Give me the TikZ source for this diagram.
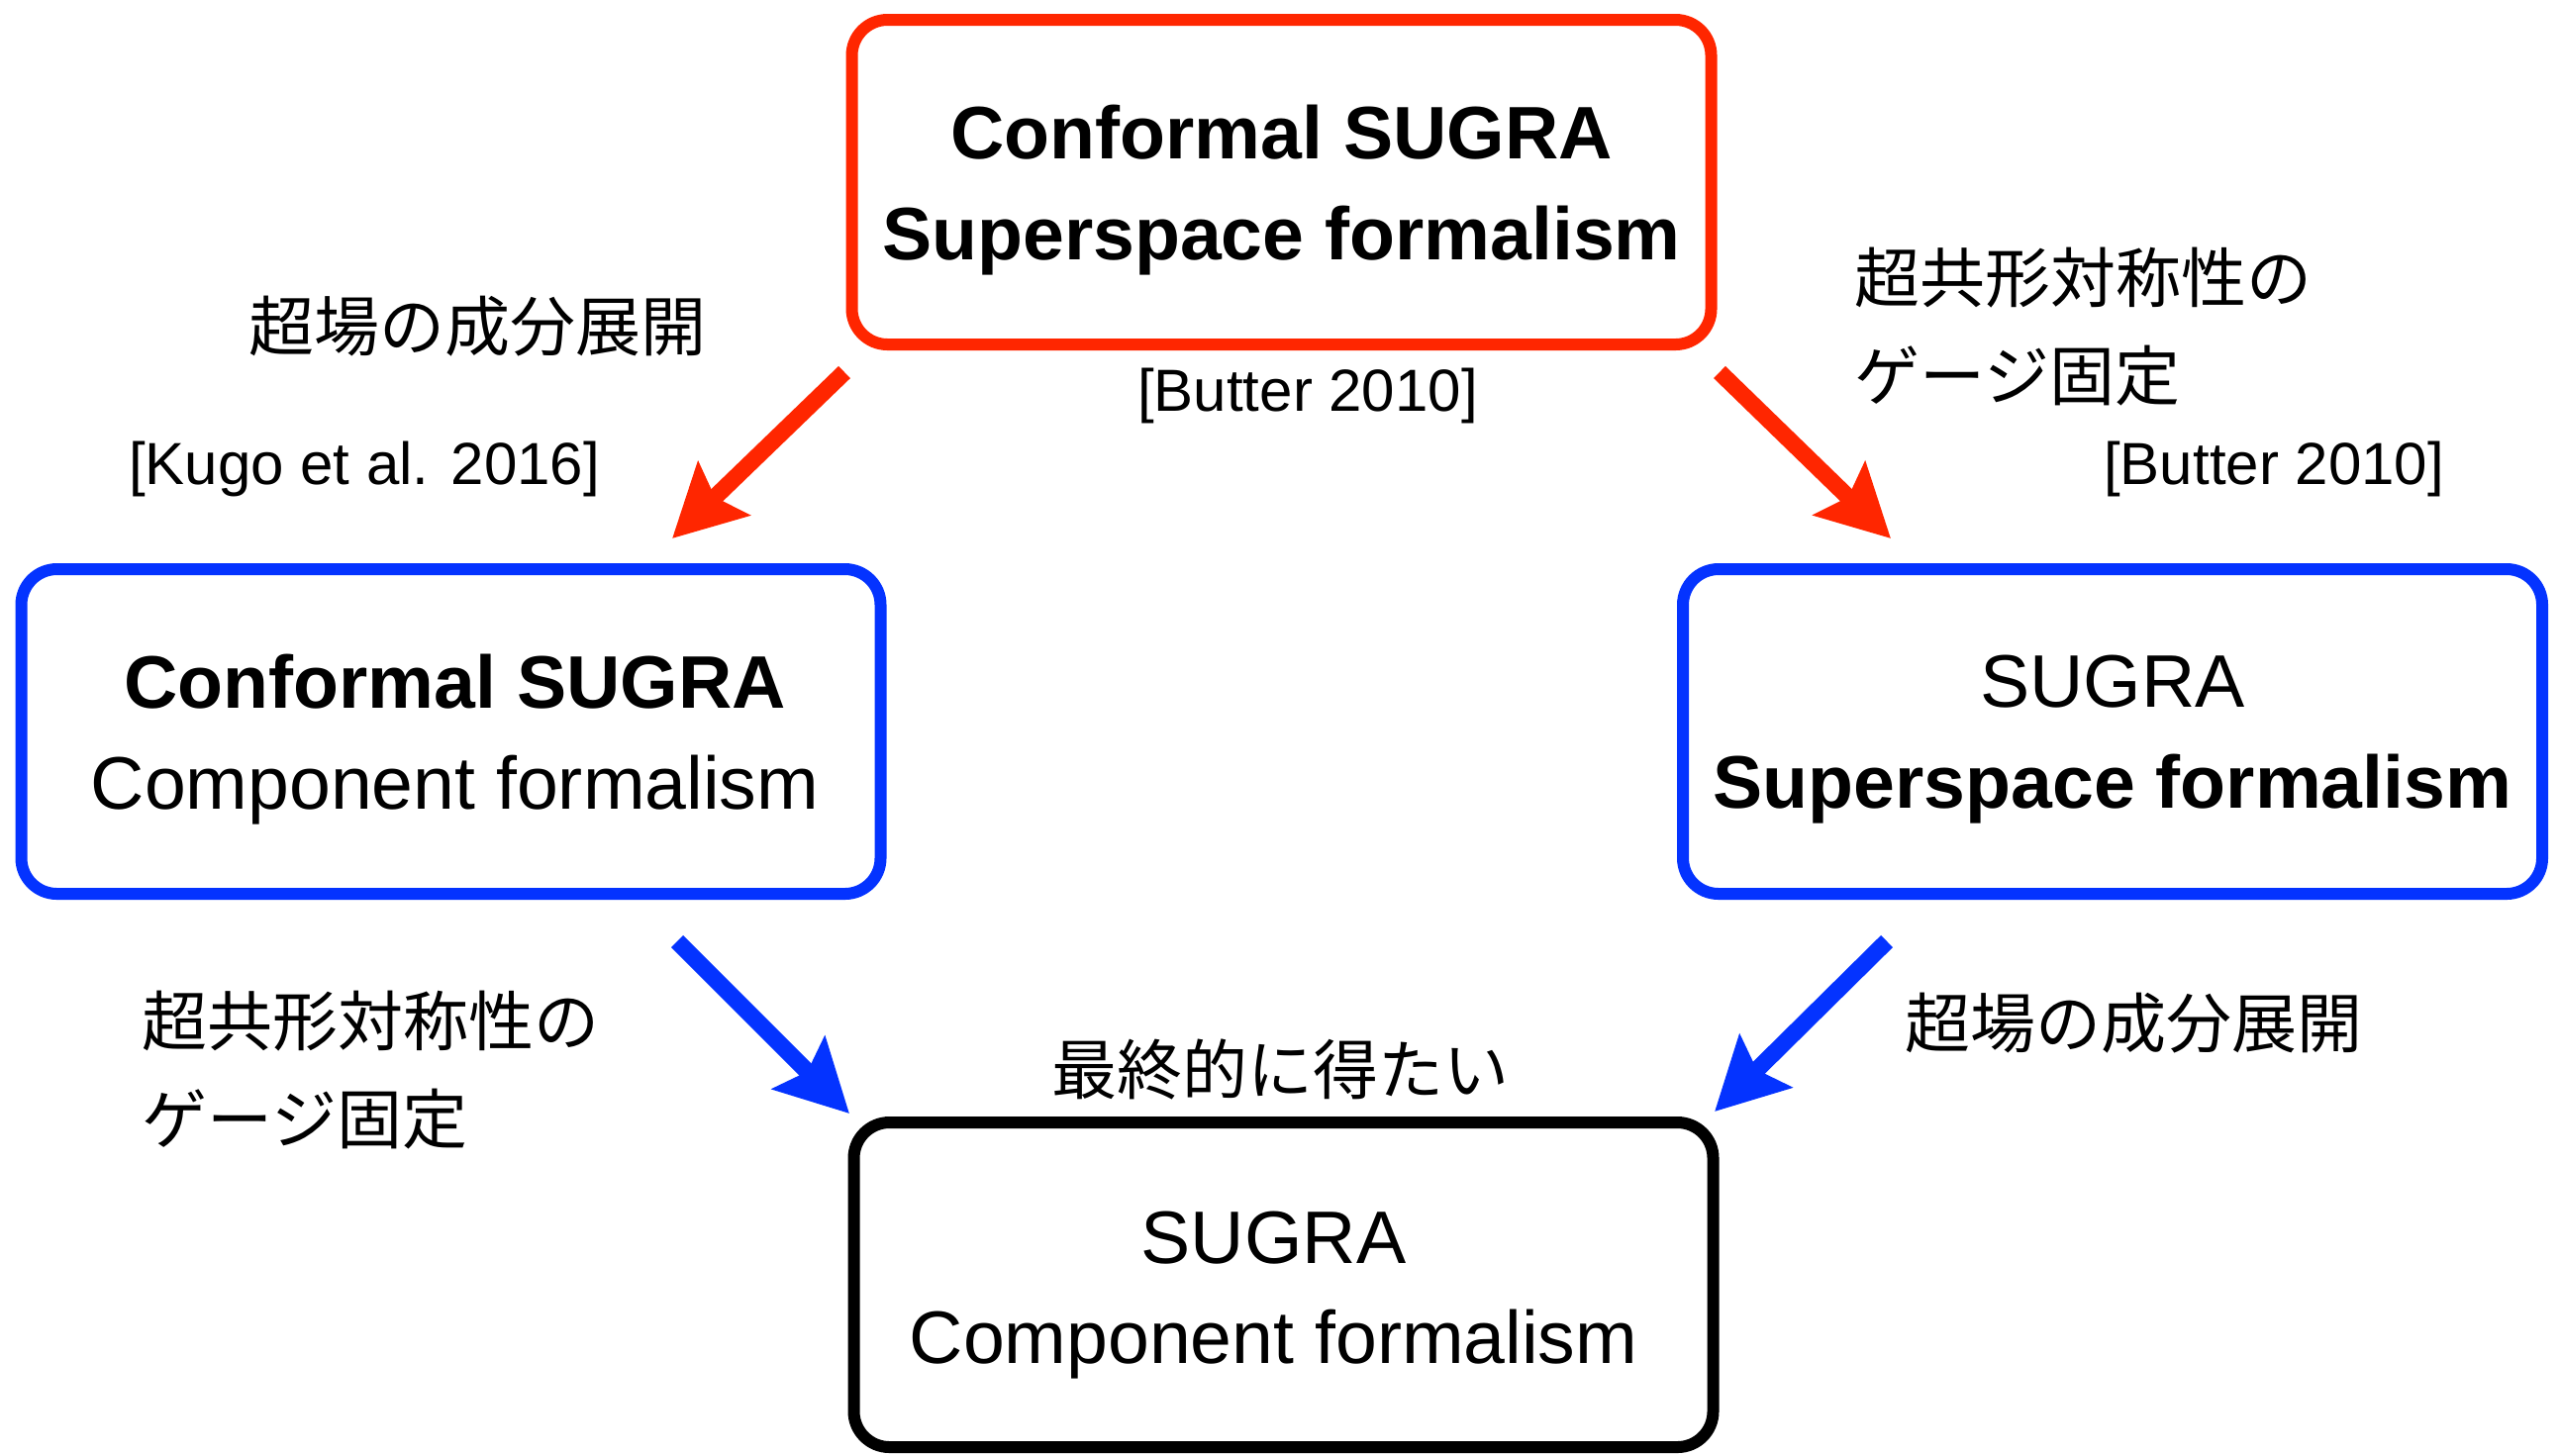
\documentclass[tikz,border=0pt]{standalone}
\usepackage{fontspec}
\setmainfont{Liberation Sans}
\newfontfamily\jp{Noto Sans CJK JP}
\usetikzlibrary{arrows.meta}
\definecolor{kred}{RGB}{255,38,0}
\definecolor{kblue}{RGB}{4,51,255}
\tikzset{
  box/.style={draw, line width=3pt, rounded corners=9pt, minimum width=217pt, minimum height=82pt, inner sep=0pt},
  boxtext/.style={align=center, inner sep=0pt, font=\fontsize{18.8}{25.3}\selectfont},
  bigarrow/.style={line width=4.25pt, -{Stealth[length=18pt,width=18.5pt,inset=3pt]}},
  jplabel/.style={font=\jp\fontsize{16.5}{24.75}\selectfont, inner sep=0pt},
  reflabel/.style={font=\fontsize{15}{18}\selectfont, inner sep=0pt}
}
\begin{document}
\begin{tikzpicture}[x=0.25pt,y=-0.25pt]
\path[use as bounding box, fill=white] (0,0) rectangle (2586,1470);
% boxes
\node[box, draw=kred] (top) at (1294.5,184) {};
\node[box, draw=kblue] (left) at (455.5,739) {};
\node[box, draw=kblue] (right) at (2134,739) {};
\node[box, draw=black] (bottom) at (1296.5,1298) {};
\node[boxtext] (toptext) at ([yshift=-2pt]top.center) {\textbf{Conformal SUGRA}\\\textbf{Superspace formalism}};
\node[boxtext] (lefttext) at ([xshift=1pt,yshift=-2pt]left.center) {\textbf{Conformal SUGRA}\\Component formalism};
\node[boxtext] (righttext) at ([yshift=-2pt]right.center) {SUGRA\\\textbf{Superspace formalism}};
\node[boxtext] (bottomtext) at ([xshift=-2.5pt,yshift=-2.6pt]bottom.center) {SUGRA\\Component formalism};
% arrow end points
\coordinate (a1s) at (853,376);
\coordinate (a1e) at (679,544);
\coordinate (a2s) at (1737,376);
\coordinate (a2e) at (1910,544);
\coordinate (a3s) at (684,951);
\coordinate (a3e) at (858,1125);
\coordinate (a4s) at (1906,951);
\coordinate (a4e) at (1732,1123);
\draw[bigarrow, kred] (a1s) -- (a1e);
\draw[bigarrow, kred] (a2s) -- (a2e);
\draw[bigarrow, kblue] (a3s) -- (a3e);
\draw[bigarrow, kblue] (a4s) -- (a4e);
% labels
\node[jplabel] (jp1) at (482,330) {超場の成分展開};
\node[reflabel] (ref1) at (368,474) {[Kugo et al. 2016]};
\node[reflabel] (ref2) at (1321,400) {[Butter 2010]};
\node[jplabel, anchor=west, align=left] (jp2) at (1873,330) {超共形対称性の\\ゲージ固定};
\node[reflabel] (ref3) at (2297,474) {[Butter 2010]};
\node[jplabel, anchor=west, align=left] (jp3) at (143,1081) {超共形対称性の\\ゲージ固定};
\node[jplabel] (jp4) at (1293,1080) {最終的に得たい};
\node[jplabel] (jp5) at (2155,1034) {超場の成分展開};
\end{tikzpicture}
\end{document}
